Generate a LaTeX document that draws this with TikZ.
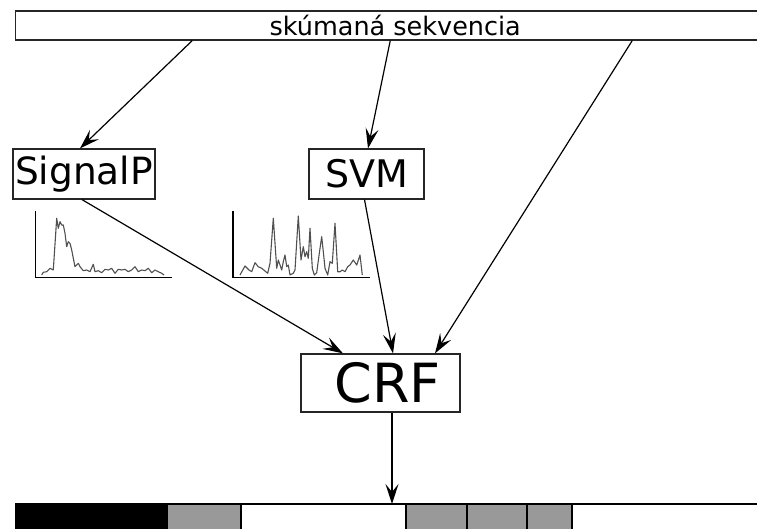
\documentclass[tikz,border=0pt]{standalone}
\usepackage{fontspec}
\setmainfont{DejaVu Sans}
\usepackage{xcolor}
\usepackage{tikz}
\usetikzlibrary{arrows.meta}

\definecolor{segGray}{HTML}{999999}
\definecolor{plotGray}{HTML}{505050}

\begin{document}
\begin{tikzpicture}[
  x=1pt, y=-1pt,
  box/.style={draw=black!85, line width=1.2pt, inner sep=0pt},
  arr/.style={-{Stealth[length=20pt, width=13pt, inset=8pt]}, line width=1.2pt},
  axis/.style={line width=1.1pt, black},
  curve/.style={line width=1.1pt, plotGray, line join=round}
]
  \useasboundingbox (0,0) rectangle (757,529);

  % Nodes
  \node[box, minimum width=759.5pt, minimum height=29pt] (seq) at (395.25,25.5)
    {\fontsize{25.5}{30}\selectfont sk\'uman\'a sekvencia};
  \node[box, minimum width=142pt, minimum height=50pt] (signalp) at (84,174)
    {\fontsize{37.5}{44}\selectfont SignalP};
  \node[box, minimum width=115pt, minimum height=50pt] (svm) at (366.5,174)
    {\fontsize{38}{44}\selectfont SVM};
  \node[box, minimum width=159pt, minimum height=58pt] (crf) at (380.5,383)
    {\hspace*{14pt}\fontsize{54}{60}\selectfont CRF};

  % Output bar
  \foreach \a/\b/\c in {16/167/black, 167/241/segGray, 241/406/white,
                        406/467/segGray, 467/527/segGray, 527/572/segGray, 572/775/white}
    \draw[fill=\c, line width=1.2pt] (\a,504) rectangle (\b,545);
  \coordinate (hit) at (392,504);

  % Plots
  \draw[axis] (35.5,211.5) -- (35.5,277.5) -- (172,277.5);
  \draw[curve] plot coordinates {(41.7,275) (43.3,272.3) (46.7,271.7) (50,268.3) (53.3,270)
    (56.7,218.3) (58.3,228.3) (60,221.7) (61.7,225) (63.3,225) (65,233.3) (66.7,246.7)
    (68.3,241.7) (70,243.3) (71.7,250) (73.3,258.3) (75,266.7) (76.7,265) (78.3,263.3)
    (80,266.7) (83.3,270.7) (86.7,270) (90,271.7) (93.3,264.3) (95,271.7) (98.3,270.7)
    (101.7,272.7) (105,269.3) (108.3,270) (111.7,268.3) (115,273.3) (118.3,269.3)
    (121.7,270) (125,269.3) (128.3,271.7) (131.7,270) (135,266.7) (138.3,271.7)
    (141.7,270) (145,270.7) (148.3,268.3) (151.7,272.7) (155,270) (158.3,271.7)
    (161.7,273.3) (164,275)};
  \draw[axis] (233,211.5) -- (233,277.5) -- (370,277.5);
  \draw[curve] plot coordinates {(240,275) (245,266) (249,270) (251.7,271.7) (255,262.7)
    (258.3,266.7) (261.7,268.3) (265,271) (267.7,273.3) (270,263.3) (273.3,218.3)
    (276.7,268.3) (278.3,260) (280,265) (281.7,270) (283.3,261.7) (285,255) (286.7,266.7)
    (288.3,265) (290,275) (293.3,273.3) (295,270) (298.3,216) (301,260) (303.3,246.7)
    (305,256.7) (306.7,251.7) (308.3,258.3) (310,228.3) (312.3,268.3) (314.3,275)
    (316.7,272.7) (319.3,253.3) (321.7,236.7) (324,258.3) (325,268.3) (327.7,275)
    (330,261.7) (332.3,263.3) (335,223.3) (337.7,271.7) (340,271.7) (342.3,270)
    (345,271.7) (347.7,266.7) (350,265) (353.3,260) (356.7,265) (360,255) (362.3,275)};

  % Paths
  \draw[arr] ([xshift=-203pt]seq.south) -- ([xshift=-4pt]signalp.north);
  \draw[arr] ([xshift=-5pt]seq.south) -- ([xshift=1.5pt]svm.north);
  \draw[arr] ([xshift=237pt]seq.south) -- ([xshift=54.5pt]crf.north);
  \draw[arr] ([xshift=-2pt]signalp.south) -- ([xshift=-37.5pt]crf.north);
  \draw[arr] ([xshift=-2pt]svm.south) -- ([xshift=12.5pt]crf.north);
  \draw[arr] (hit |- crf.south) -- (hit);
\end{tikzpicture}
\end{document}
